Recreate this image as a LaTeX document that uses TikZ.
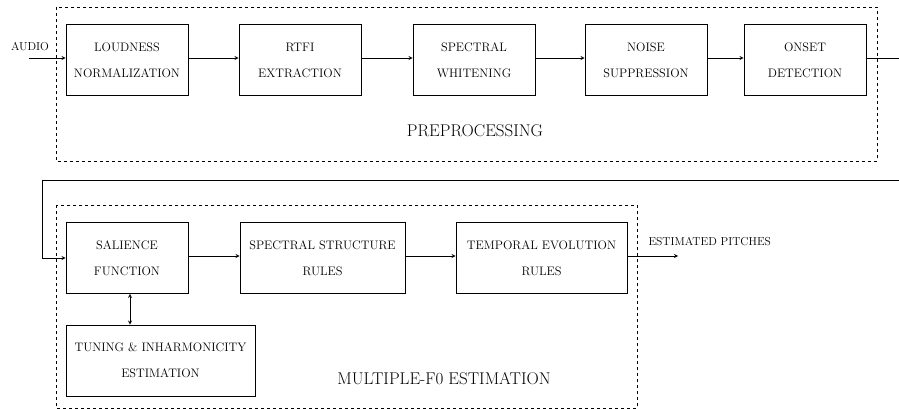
\documentclass[tikz,border=0pt]{standalone}
\usepackage{tikz}
\usetikzlibrary{calc,arrows}
\tikzset{
	block/.style={draw, line width=0.9pt, rectangle, align=center, minimum width=122pt, minimum height=71pt, inner sep=0pt, font=\fontsize{12.3}{26}\selectfont},
	stage/.style={draw, dashed, line width=0.8pt},
	link/.style={line width=0.8pt, -stealth},
	plain/.style={line width=0.8pt},
	title/.style={font=\fontsize{17}{20}\selectfont},
	tag/.style={font=\fontsize{11.5}{13}\selectfont}
}

\begin{document}
\begin{tikzpicture}[x=1pt, y=-1pt]
			%%%%% START %%%%%
			\useasboundingbox (0, 0) rectangle (899, 409);
			
			\draw[stage] (56, 7) rectangle (877, 161);
			\draw[stage] (56, 205) rectangle (637, 408);
			\node[title] (prep) at (475, 131) {PREPROCESSING};
			\node[title] (mfe) at (444, 379) {MULTIPLE-F0 ESTIMATION};
			
			\node[block] (loud) at (127, 60) {LOUDNESS\\NORMALIZATION};
			\node[block] (rtfi) at (300, 60) {RTFI\\EXTRACTION};
			\node[block] (white) at (474, 60) {SPECTRAL\\WHITENING};
			\node[block] (noise) at (646, 60) {NOISE\\SUPPRESSION};
			\node[block] (onset) at (805, 60) {ONSET\\DETECTION};
			
			\node[block] (sal) at (127, 258) {SALIENCE\\FUNCTION};
			\node[block, minimum width=165pt] (struct) at (322.5, 258) {SPECTRAL STRUCTURE\\RULES};
			\node[block, minimum width=171pt] (evol) at (541.5, 258) {TEMPORAL EVOLUTION\\RULES};
			\node[block, minimum width=189pt] (tune) at (160.5, 360.5) {TUNING \& INHARMONICITY\\ESTIMATION};
			
			\coordinate (in) at (29, 58);
			\coordinate (cut) at (899, 58);
			\coordinate (back) at (899, 180);
			\coordinate (bend) at (42, 180);
			\coordinate (out) at (678, 256);
			
			\node[tag] (audio) at (30, 47) {AUDIO};
			\node[tag, anchor=west] (pitch) at (645, 242) {ESTIMATED PITCHES};
			
			\draw[link] (in) -- (loud.west |- in);
			\draw[link] (loud.east |- in) -- (rtfi.west |- in);
			\draw[link] (rtfi.east |- in) -- (white.west |- in);
			\draw[link] (white.east |- in) -- (noise.west |- in);
			\draw[link] (noise.east |- in) -- (onset.west |- in);
			\draw[plain] (onset.east |- in) -- (cut);
			
			\draw[link] (back) -- (bend) -- (bend |- sal.west) -- (sal.west);
			\draw[link] (sal.east |- out) -- (struct.west |- out);
			\draw[link] (struct.east |- out) -- (evol.west |- out);
			\draw[link] (evol.east |- out) -- (out);
			\draw[plain, stealth-stealth] ($(sal.south)+(3, 0)$) -- ($(sal.south |- tune.north)+(3, 0)$);
			%%%%% END %%%%%
		\end{tikzpicture}
\end{document}
